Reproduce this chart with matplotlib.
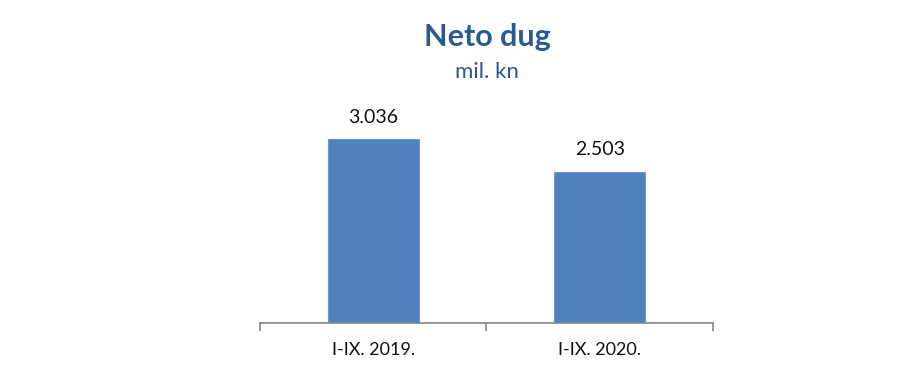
import matplotlib
matplotlib.use("Agg")
from matplotlib import pyplot as plt

categories = ["I-IX. 2019.", "I-IX. 2020."]
values = [3036, 2503]
value_labels = ["3.036", "2.503"]

plt.rcParams['font.family'] = ['Lato', 'DejaVu Sans']

fig = plt.figure(figsize=(9, 3.85), dpi=100)
ax = fig.add_axes([0.2889, 0.161, 0.5033, 0.55])

x = list(range(len(categories)))
ax.bar(x, values, width=0.4, color="#4F81BD", edgecolor="#6A96CC", linewidth=0.8)
ax.set_xlim(-0.5, 1.5)
ax.set_ylim(0, 3500)

for xi, v, lab in zip(x, values, value_labels):
    ax.text(xi, v + 220, lab, ha="center", va="bottom", fontsize=14, color="#111111")

for s in ["top", "right", "left"]:
    ax.spines[s].set_visible(False)
ax.spines["bottom"].set_color("#868686")
ax.spines["bottom"].set_linewidth(1.2)
ax.set_yticks([])
ax.set_xticks([-0.5, 0.5, 1.5])
ax.set_xticklabels([])
ax.set_xticks(x, minor=True)
ax.set_xticklabels(categories, minor=True, fontsize=13, color="#111111")
ax.tick_params(axis="x", which="major", length=6, width=1.2, color="#868686")
ax.tick_params(axis="x", which="minor", length=0, pad=14)

fig.text(0.541, 0.905, "Neto dug", ha="center", va="center", fontsize=22,
         fontweight="bold", color="#2A5A8E")
fig.text(0.541, 0.812, "mil. kn", ha="center", va="center", fontsize=16,
         color="#2A5A8E")

fig.savefig("out.png", dpi=100)
